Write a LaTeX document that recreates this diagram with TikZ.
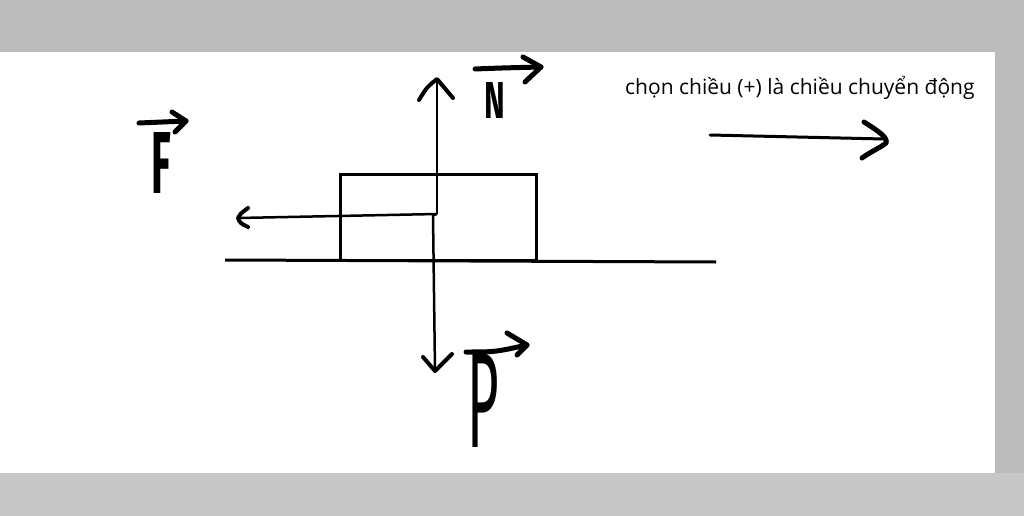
\documentclass[tikz,border=0pt]{standalone}
\usepackage{fontspec}
\setmainfont{Open Sans}
\newfontfamily\uifont{Open Sans}
\newfontfamily\handfont{Fira Sans}
\usetikzlibrary{calc}
\definecolor{bggray}{RGB}{186,187,186}
\definecolor{bottomgray}{RGB}{198,200,199}
\tikzset{
  groundline/.style={line width=3pt, black},
  boxline/.style={draw, line width=2.8pt, black, inner sep=0pt},
  force/.style={line width=2.5pt, black},
  forcehead/.style={line width=4pt, black, line cap=round, line join=round},
  pen/.style={line width=5pt, black, line cap=round, line join=round},
  letter/.style={inner sep=0pt, font=\handfont},
  caption/.style={inner sep=0pt, font=\uifont\fontsize{21}{25}\selectfont}
}
\begin{document}
\begin{tikzpicture}[x=1pt,y=-1pt]
\useasboundingbox (0,0) rectangle (1024,516);
\fill[bggray] (0,0) rectangle (1024,516);
\fill[bottomgray] (0,473) rectangle (1024,516);
\fill[white] (0,52) rectangle (995,473);

% ground and block
\coordinate (g1) at (225,260);
\coordinate (g2) at (716,262);
\draw[groundline] (g1) -- (g2);
\node[boxline, minimum width=196pt, minimum height=86pt, anchor=north west] (box) at (339,173) {};

% forces
\coordinate (O) at (437,214);
\coordinate (Ntip) at (437,79);
\coordinate (Ftip) at (238,218);
\coordinate (Pstart) at (433,215);
\coordinate (Ptip) at (435,371);
\draw[force] (O) -- (Ntip);
\draw[force] (O) -- (Ftip);
\draw[force] (O) -- (Pstart) -- (Ptip);
\draw[forcehead] ($(Ntip)+(-18,21)$) .. controls ($(Ntip)+(-10,8)$) .. (Ntip) .. controls ($(Ntip)+(8,10)$) .. ($(Ntip)+(16,19)$);
\draw[forcehead] ($(Ftip)+(10,-10)$) .. controls ($(Ftip)+(2,-4)$) .. (Ftip) .. controls ($(Ftip)+(2,5)$) .. ($(Ftip)+(10,9)$);
\draw[forcehead] ($(Ptip)+(-12,-14)$) -- (Ptip) -- ($(Ptip)+(17,-17)$);

% labels
\node[letter] (N) at (495,100) {\fontsize{52}{52}\selectfont\bfseries\scalebox{0.6}[1]{N}};
\node[letter] (F) at (161,163) {\fontsize{88}{88}\selectfont\bfseries\scalebox{0.46}[1]{F}};
\node[letter] (P) at (483,401) {\fontsize{136}{136}\selectfont\scalebox{0.4}[1]{P}};

% over-arrows
\coordinate (nA) at (475,69);
\coordinate (nB) at (541,67);
\draw[pen] (nA) .. controls (500,68) .. (nB);
\draw[pen] ($(nB)+(-18,-10)$) -- (nB) -- ($(nB)+(-16,15)$);
\coordinate (fA) at (139,123);
\coordinate (fB) at (186,121);
\draw[pen] (fA) -- (fB);
\draw[pen] ($(fB)+(-14,-9)$) -- (fB) -- ($(fB)+(-11,11)$);
\coordinate (pA) at (466,352);
\coordinate (pB) at (527,345);
\draw[pen] (pA) .. controls (495,352) .. (pB);
\draw[pen] ($(pB)+(-20,-12)$) -- (pB) -- ($(pB)+(-10,10)$);

% direction note
\node[caption, anchor=base west] (note) at (625,95) {chọn chiều (+) là chiều chuyển động};
\coordinate (dA) at (710,135);
\coordinate (dB) at (884,139);
\draw[line width=3pt, line cap=round] (dA) -- (dB);
\draw[pen] (864,122) .. controls (880,132) and (888,138) .. (886,143) .. controls (880,148) and (870,152) .. (862,158);
\end{tikzpicture}
\end{document}
